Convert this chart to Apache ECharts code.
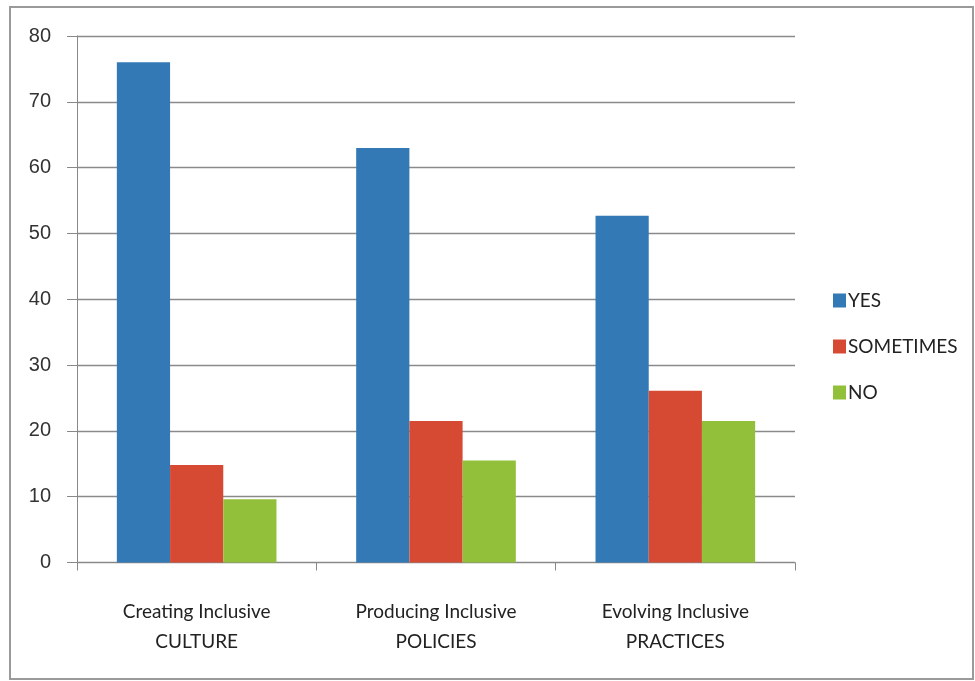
<!DOCTYPE html>
<html><head><meta charset="utf-8">
<script src="https://cdn.jsdelivr.net/npm/echarts@6/dist/echarts.min.js"></script>
<style>html,body{margin:0;padding:0;background:#fff}#c{width:975px;height:681px}</style>
</head><body><div id="c"></div>
<script>
var categories = ['Creating Inclusive\nCULTURE', 'Producing Inclusive\nPOLICIES', 'Evolving Inclusive\nPRACTICES'];
var seriesNames = ['YES', 'SOMETIMES', 'NO'];
var yesValues = [76, 63, 52.7];
var sometimesValues = [14.8, 21.5, 26.1];
var noValues = [9.6, 15.5, 21.5];
var colors = ['#3379b5', '#d64a34', '#92c03a'];

var chart = echarts.init(document.getElementById('c'));
var font = 'Lato, "Open Sans", sans-serif';
chart.setOption({
  animation: false,
  backgroundColor: '#fff',
  graphic: [{
    type: 'rect', shape: {x: 10, y: 7, width: 963, height: 672},
    style: {fill: 'none', stroke: '#9a9a9a', lineWidth: 2}, silent: true
  }],
  grid: {left: 77, right: 180, top: 36, bottom: 118.5, containLabel: false},
  legend: {
    orient: 'vertical', left: 828, top: 286, itemGap: 27,
    itemWidth: 13, itemHeight: 14, icon: 'rect',
    textStyle: {fontFamily: font, fontSize: 19, color: '#222', padding: [0,0,0,-3]},
    data: seriesNames
  },
  xAxis: {
    type: 'category', data: categories,
    axisLine: {lineStyle: {color: '#888', width: 1}},
    axisTick: {show: true, length: 8, lineStyle: {color: '#888'}},
    axisLabel: {fontFamily: font, fontSize: 19, color: '#222', margin: 34, lineHeight: 30},
    splitLine: {show: false}
  },
  yAxis: {
    type: 'value', min: 0, max: 80, interval: 10,
    axisLine: {show: true, lineStyle: {color: '#888'}},
    axisTick: {show: true, length: 10, lineStyle: {color: '#888'}},
    axisLabel: {fontFamily: '"Liberation Sans", Arial, sans-serif', fontSize: 20, color: '#333', margin: 26},
    splitLine: {lineStyle: {color: '#8a8a8a', width: 1.3}}
  },
  series: [
    {name: seriesNames[0], type: 'bar', data: yesValues, itemStyle: {color: colors[0]}, barGap: '0%', barCategoryGap: '33.3%'},
    {name: seriesNames[1], type: 'bar', data: sometimesValues, itemStyle: {color: colors[1]}, barGap: '0%', barCategoryGap: '33.3%'},
    {name: seriesNames[2], type: 'bar', data: noValues, itemStyle: {color: colors[2]}, barGap: '0%', barCategoryGap: '33.3%'}
  ]
});
</script></body></html>
